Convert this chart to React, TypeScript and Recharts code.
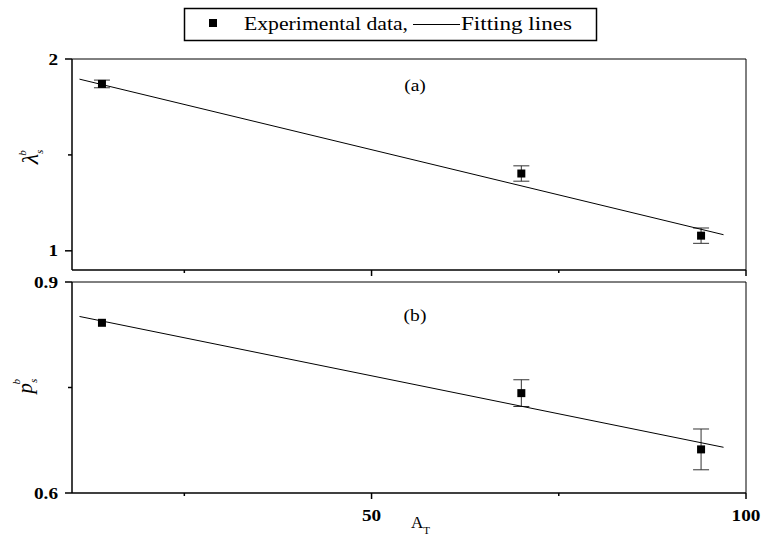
import React from 'react';
import { ScatterChart, Scatter, XAxis, YAxis, ErrorBar, ReferenceLine } from 'recharts';

const FONT = '"Liberation Serif", "Times New Roman", Times, serif';

// Experimental data
const xExp = [14, 70, 94];
const lambdaVals = [1.87, 1.403, 1.079];
const lambdaErr = [0.02, 0.04, 0.04];
const pVals = [0.842, 0.742, 0.662];
const pErr = [0, 0.019, 0.029];

// Fitting lines (end points)
const fitX = [11, 97];
const lambdaFit = [1.895, 1.084];
const pFit = [0.851, 0.665];

// Axes
const xTicks = [25, 50, 75, 100];
const xMajor = [50, 100];
const lambdaTicks = [1, 1.5, 2];
const lambdaMajor = [1, 2];
const pTicks = [0.6, 0.75, 0.9];
const pMajor = [0.6, 0.9];

const expA = xExp.map((x, i) => ({ x, y: lambdaVals[i], err: lambdaErr[i] }));
const expB = xExp.map((x, i) => ({ x, y: pVals[i], err: pErr[i] }));
const fitA = fitX.map((x, i) => ({ x, y: lambdaFit[i] }));
const fitB = fitX.map((x, i) => ({ x, y: pFit[i] }));

const XTick = (props: any) => {
  const { x, y, payload, showLabel } = props;
  const major = xMajor.includes(payload.value);
  return (
    <g>
      <line x1={x} x2={x} y1={y} y2={y + (major ? 6 : 3)} stroke="#000" strokeWidth={1.5} />
      {showLabel && major && (
        <text transform={`translate(${x},${y + 28}) scale(1.2,1)`} textAnchor="middle" fontFamily={FONT} fontWeight="bold" fontSize={16} fill="#000">
          {payload.value}
        </text>
      )}
    </g>
  );
};

const YTick = (props: any) => {
  const { x, y, payload, majors, digits } = props;
  const major = majors.includes(payload.value);
  return (
    <g>
      <line x1={x - (major ? 7 : 4)} x2={x} y1={y} y2={y} stroke="#000" strokeWidth={1.5} />
      {major && (
        <text transform={`translate(${x - 14},${y}) scale(1.2,1)`} dy="0.35em" textAnchor="end" fontFamily={FONT} fontWeight="bold" fontSize={16} fill="#000">
          {Number(payload.value).toFixed(digits)}
        </text>
      )}
    </g>
  );
};

const YTitle = (props: any) => {
  const { tx, ty, main, size } = props;
  return (
    <text x={tx} y={ty} transform={`rotate(-90 ${tx} ${ty})`} textAnchor="middle" fontFamily={FONT} fontStyle="italic" fill="#000">
      <tspan fontSize={size}>{main}</tspan>
      <tspan fontSize={11} dy={5}>s</tspan>
      <tspan fontSize={11} dx={-6} dy={-17}>b</tspan>
    </text>
  );
};

const PanelTag = (props: any) => {
  const { tx, ty, text } = props;
  return (
    <text transform={`translate(${tx},${ty}) scale(1.15,1)`} textAnchor="middle" fontFamily={FONT} fontSize={17} fill="#000">
      {text}
    </text>
  );
};

const XTitle = () => (
  <text x={411} y={258} fontFamily={FONT} fontSize={17} fill="#000">
    A<tspan fontSize={11} dy={6}>T</tspan>
  </text>
);

const hiddenShape = () => <g />;

export default function App() {
  return (
    <div style={{ position: 'absolute', left: 0, top: 0, width: 761, height: 537, background: '#fff', fontFamily: FONT }}>
      {/* Legend */}
      <svg width={761} height={45} style={{ position: 'absolute', left: 0, top: 0 }}>
        <rect x={184.5} y={8.5} width={412} height={32} fill="none" stroke="#000" strokeWidth={1.5} />
        <rect x={209} y={19} width={8} height={8} fill="#000" />
        <text x={244} y={30} fontFamily={FONT} fontSize={19} fill="#000" textLength={164} lengthAdjust="spacingAndGlyphs">
          Experimental data,
        </text>
        <line x1={413} x2={460} y1={24.5} y2={24.5} stroke="#000" strokeWidth={1} />
        <text x={461} y={30} fontFamily={FONT} fontSize={19} fill="#000" textLength={111} lengthAdjust="spacingAndGlyphs">
          Fitting lines
        </text>
      </svg>

      {/* Panel (a) */}
      <div style={{ position: 'absolute', left: 0, top: 0 }}>
        <ScatterChart width={761} height={300} margin={{ top: 59, right: 15, bottom: 0, left: 0 }}>
          <XAxis
            type="number" dataKey="x" domain={[10, 100]} ticks={xTicks} allowDataOverflow
            height={30} tickSize={0} tickMargin={0} tickLine={false}
            axisLine={{ stroke: '#000', strokeWidth: 1.5 }}
            tick={<XTick showLabel={false} />} interval={0}
          />
          <YAxis
            type="number" dataKey="y" domain={[0.9, 2]} ticks={lambdaTicks} allowDataOverflow
            width={72} tickSize={0} tickMargin={0} tickLine={false}
            axisLine={{ stroke: '#000', strokeWidth: 1.5 }}
            tick={<YTick majors={lambdaMajor} digits={0} />} interval={0}
            label={<YTitle tx={38} ty={157} main="λ" size={24} />}
          />
          <ReferenceLine y={2} stroke="#000" strokeWidth={1} label={<PanelTag tx={415} ty={91} text="(a)" />} />
          <ReferenceLine x={100} stroke="#000" strokeWidth={1} />
          <Scatter data={fitA} line={{ stroke: '#000', strokeWidth: 1 }} shape={hiddenShape} isAnimationActive={false} />
          <Scatter data={expA} fill="#000" shape="square" isAnimationActive={false}>
            <ErrorBar dataKey="err" direction="y" width={8} stroke="#333" strokeWidth={1} />
          </Scatter>
        </ScatterChart>
      </div>

      {/* Panel (b) */}
      <div style={{ position: 'absolute', left: 0, top: 270 }}>
        <ScatterChart width={761} height={267} margin={{ top: 12, right: 15, bottom: 0, left: 0 }}>
          <XAxis
            type="number" dataKey="x" domain={[10, 100]} ticks={xTicks} allowDataOverflow
            height={44} tickSize={0} tickMargin={0} tickLine={false}
            axisLine={{ stroke: '#000', strokeWidth: 1.5 }}
            tick={<XTick showLabel={true} />} interval={0}
            label={<XTitle />}
          />
          <YAxis
            type="number" dataKey="y" domain={[0.6, 0.9]} ticks={pTicks} allowDataOverflow
            width={72} tickSize={0} tickMargin={0} tickLine={false}
            axisLine={{ stroke: '#000', strokeWidth: 1.5 }}
            tick={<YTick majors={pMajor} digits={1} />} interval={0}
            label={<YTitle tx={32} ty={116} main="p" size={21} />}
          />
          <ReferenceLine y={0.9} stroke="#000" strokeWidth={1} label={<PanelTag tx={415} ty={51} text="(b)" />} />
          <ReferenceLine x={100} stroke="#000" strokeWidth={1} />
          <Scatter data={fitB} line={{ stroke: '#000', strokeWidth: 1 }} shape={hiddenShape} isAnimationActive={false} />
          <Scatter data={expB} fill="#000" shape="square" isAnimationActive={false}>
            <ErrorBar dataKey="err" direction="y" width={8} stroke="#333" strokeWidth={1} />
          </Scatter>
        </ScatterChart>
      </div>
    </div>
  );
}
